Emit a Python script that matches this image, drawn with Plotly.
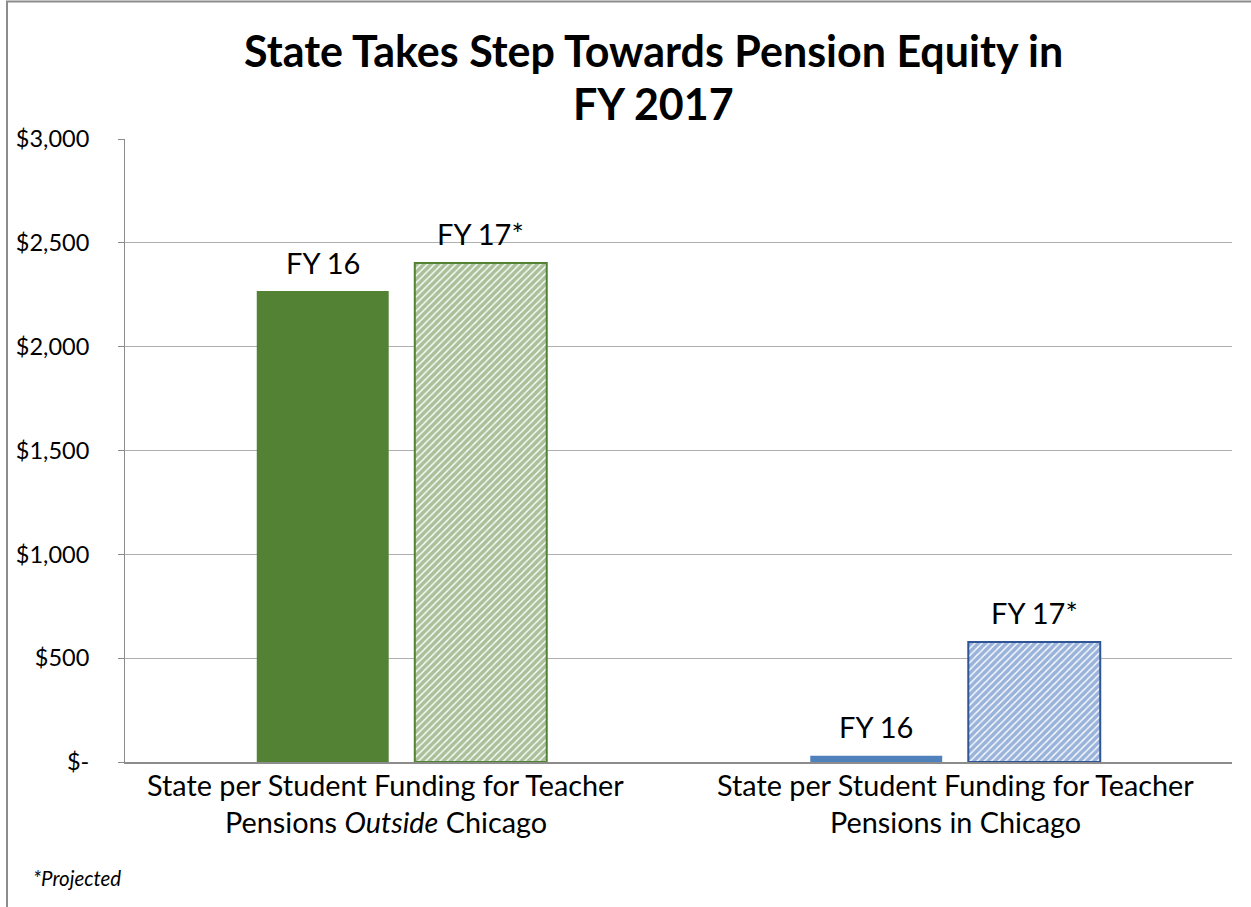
import plotly.graph_objects as go

categories = [
    "State per Student Funding for Teacher<br>Pensions <i>Outside</i> Chicago",
    "State per Student Funding for Teacher<br>Pensions in Chicago",
]
series_names = ["FY 16", "FY 17*"]
fy16_values = [2268, 30]
fy17_values = [2403, 578]
y_tickvals = [0, 500, 1000, 1500, 2000, 2500, 3000]
y_ticktext = ["$-", "$500", "$1,000", "$1,500", "$2,000", "$2,500", "$3,000"]
title_lines = ["State Takes Step Towards Pension Equity in", "FY 2017"]
footnote = "<i>*Projected</i>"

FONT = "Lato"
W, H = 1251, 907
L, T = 125, 139
R = W - 1232
B = H - 762
PW, PH = W - L - R, H - T - B

def px_x(px):
    return (px - L) / PW

def px_y(py):
    return (H - B - py) / PH

green = "#548235"
blue = "#4F81BD"
blue_dark = "#2F5597"
blue_pat = "#3567B8"

fig = go.Figure()
fig.add_trace(go.Bar(
    x=categories, y=fy16_values, name=series_names[0],
    marker=dict(color=[green, blue], line=dict(width=0)),
))
fig.add_trace(go.Bar(
    x=categories, y=fy17_values, name=series_names[1],
    marker=dict(
        color="white",
        line=dict(color=[green, blue_dark], width=2),
        pattern=dict(shape="/", fgcolor=[green, blue_pat], bgcolor="white",
                     size=5, solidity=0.72, fillmode="overlay"),
    ),
))

annotations = []
for vals, name, shift in [(fy16_values, series_names[0], -79), (fy17_values, series_names[1], 79)]:
    for c, v in zip(categories, vals):
        annotations.append(dict(
            x=c, y=v, xref="x", yref="y", text=name, showarrow=False,
            xshift=shift, yshift=29, yanchor="middle",
            font=dict(family=FONT, size=29, color="black"),
        ))
for c, xs in zip(categories, [-16, 0]):
    for i, line in enumerate(c.split("<br>")):
        annotations.append(dict(
            x=c, y=px_y(785 + 37 * i), xref="x", yref="paper", text=line,
            showarrow=False, yanchor="middle", xshift=xs,
            font=dict(family=FONT, size=28.8, color="black"),
        ))
for i, line in enumerate(title_lines):
    annotations.append(dict(
        x=px_x(653), y=px_y(50 + 53 * i), xref="paper", yref="paper",
        text="<b>" + line + "</b>", showarrow=False, yanchor="middle",
        font=dict(family=FONT, size=43, color="black"),
    ))
annotations.append(dict(
    x=px_x(31), y=px_y(878), xref="paper", yref="paper", text=footnote,
    showarrow=False, xanchor="left", yanchor="middle",
    font=dict(family=FONT, size=20.5, color="black"),
))

fig.update_layout(
    width=W, height=H,
    margin=dict(l=L, r=R, t=T, b=B),
    paper_bgcolor="white", plot_bgcolor="white",
    showlegend=False,
    barmode="group", bargap=0.429, bargroupgap=0.165,
    annotations=annotations,
    shapes=[dict(type="rect", xref="paper", yref="paper",
                 x0=px_x(7), x1=px_x(1300), y0=px_y(1000), y1=px_y(1.5),
                 line=dict(color="#8C8C8C", width=2), layer="below")],
    font=dict(family=FONT, color="black"),
)
fig.update_xaxes(showticklabels=False, showline=True, linecolor="#8C8C8C", linewidth=2,
                 ticks="", showgrid=False)
fig.update_yaxes(range=[0, 3000], tickvals=y_tickvals, ticktext=y_ticktext,
                 showline=True, linecolor="#8C8C8C", linewidth=1,
                 ticks="outside", ticklen=6, tickcolor="#8C8C8C",
                 showgrid=True, gridcolor="#AFAFAF", gridwidth=1,
                 ticklabelstandoff=24,
                 tickfont=dict(family=FONT, size=23.5, color="black"), zeroline=False)

fig.write_html("out.html", config={"displayModeBar": False},
               post_script="document.body.style.margin='0px';document.body.style.padding='0px';")
